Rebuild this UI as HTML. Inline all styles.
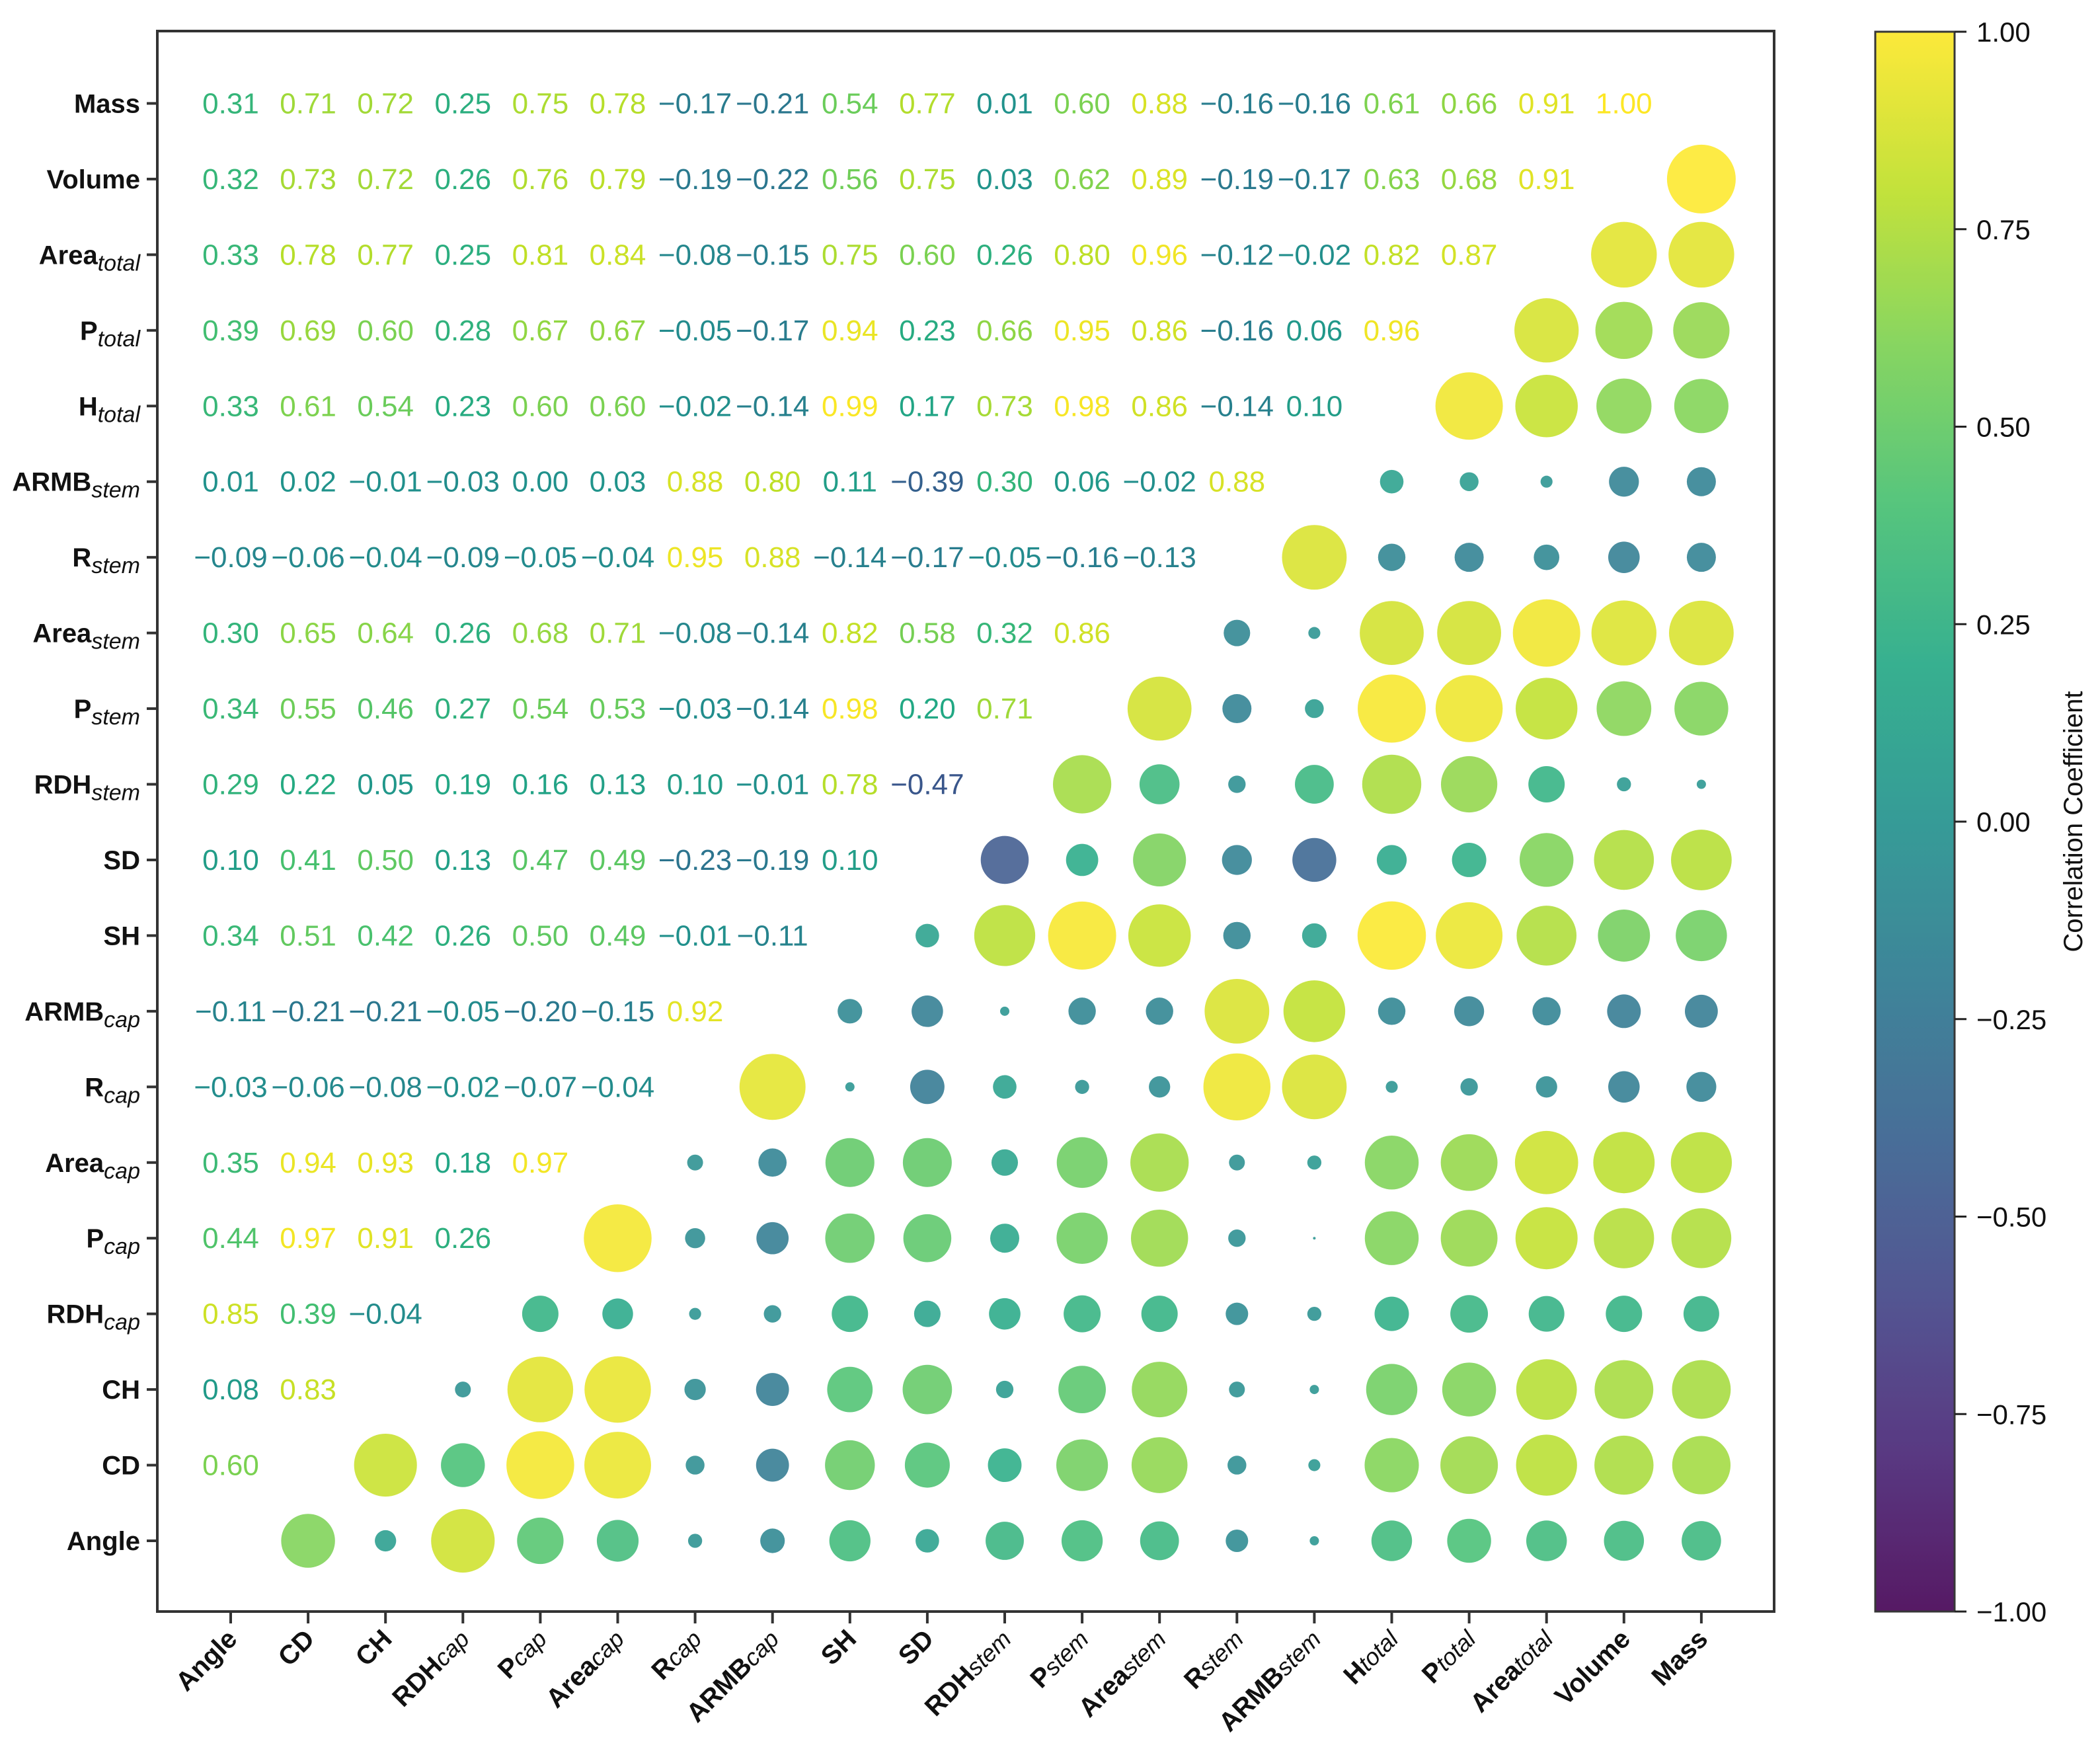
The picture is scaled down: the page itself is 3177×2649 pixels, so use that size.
<!DOCTYPE html>
<html><head><meta charset="utf-8"><style>
html,body{margin:0;padding:0;background:#fff;}
svg{display:block;}
text{font-family:"Liberation Sans","Noto Sans CJK SC",sans-serif;}
</style></head><body>
<svg id="chart" width="3177" height="2649" viewBox="0 0 3177 2649" xmlns="http://www.w3.org/2000/svg">
<defs>
<linearGradient id="vir" x1="0" y1="1" x2="0" y2="0">
<stop offset="0" stop-color="#440154"/><stop offset="0.1" stop-color="#482475"/><stop offset="0.2" stop-color="#414487"/><stop offset="0.3" stop-color="#355f8d"/><stop offset="0.4" stop-color="#2a788e"/><stop offset="0.5" stop-color="#21918c"/><stop offset="0.6" stop-color="#22a884"/><stop offset="0.7" stop-color="#44bf70"/><stop offset="0.8" stop-color="#7ad151"/><stop offset="0.9" stop-color="#bddf26"/><stop offset="1" stop-color="#fde725"/>
</linearGradient>
</defs>
<rect x="238" y="47" width="2446" height="2391" fill="none" stroke="#333" stroke-width="4"/>
<g id="marks"></g>
<g id="axes"></g>
<rect x="2837" y="48" width="120" height="2390" fill="url(#vir)" stroke="#222" stroke-width="3" opacity="0.9"/>
<g id="cbar"></g>
<text transform="translate(3150,1243) rotate(-90)" text-anchor="middle" font-size="40" fill="#111" font-family="Liberation Mono, monospace">Correlation Coefficient</text>
</svg>
<script>
const labels = [["Angle",""],["CD",""],["CH",""],["RDH","cap"],["P","cap"],["Area","cap"],["R","cap"],["ARMB","cap"],["SH",""],["SD",""],["RDH","stem"],["P","stem"],["Area","stem"],["R","stem"],["ARMB","stem"],["H","total"],["P","total"],["Area","total"],["Volume",""],["Mass",""]];
const lowerRows = [
[],
[0.60],
[0.08,0.83],
[0.85,0.39,-0.04],
[0.44,0.97,0.91,0.26],
[0.35,0.94,0.93,0.18,0.97],
[-0.03,-0.06,-0.08,-0.02,-0.07,-0.04],
[-0.11,-0.21,-0.21,-0.05,-0.20,-0.15,0.92],
[0.34,0.51,0.42,0.26,0.50,0.49,-0.01,-0.11],
[0.10,0.41,0.50,0.13,0.47,0.49,-0.23,-0.19,0.10],
[0.29,0.22,0.05,0.19,0.16,0.13,0.10,-0.01,0.78,-0.47],
[0.34,0.55,0.46,0.27,0.54,0.53,-0.03,-0.14,0.98,0.20,0.71],
[0.30,0.65,0.64,0.26,0.68,0.71,-0.08,-0.14,0.82,0.58,0.32,0.86],
[-0.09,-0.06,-0.04,-0.09,-0.05,-0.04,0.95,0.88,-0.14,-0.17,-0.05,-0.16,-0.13],
[0.01,0.02,-0.01,-0.03,0.00,0.03,0.88,0.80,0.11,-0.39,0.30,0.06,-0.02,0.88],
[0.33,0.61,0.54,0.23,0.60,0.60,-0.02,-0.14,0.99,0.17,0.73,0.98,0.86,-0.14,0.10],
[0.39,0.69,0.60,0.28,0.67,0.67,-0.05,-0.17,0.94,0.23,0.66,0.95,0.86,-0.16,0.06,0.96],
[0.33,0.78,0.77,0.25,0.81,0.84,-0.08,-0.15,0.75,0.60,0.26,0.80,0.96,-0.12,-0.02,0.82,0.87],
[0.32,0.73,0.72,0.26,0.76,0.79,-0.19,-0.22,0.56,0.75,0.03,0.62,0.89,-0.19,-0.17,0.63,0.68,0.91],
[0.31,0.71,0.72,0.25,0.75,0.78,-0.17,-0.21,0.54,0.77,0.01,0.60,0.88,-0.16,-0.16,0.61,0.66,0.91,1.00]
];
const cbarTicks = [1.00,0.75,0.50,0.25,0.00,-0.25,-0.50,-0.75,-1.00];

const NS="http://www.w3.org/2000/svg";
const X0=349, DX=117.1, Y0=2331, DY=114.45;
const xPos=j=>X0+j*DX;
const yPos=i=>Y0-i*DY;
const CB_TOP=48, CB_BOT=2438;
const cbY=v=>CB_BOT-(v+1)/2*(CB_BOT-CB_TOP);
const vir=["#440154","#482475","#414487","#355f8d","#2a788e","#21918c","#22a884","#44bf70","#7ad151","#bddf26","#fde725"];
function color(v){
  let t=Math.max(0,Math.min(1,(v+1)/2))*10;let k=Math.min(9,Math.floor(t));let f=t-k;
  const a=vir[k],b=vir[k+1];const p=(h,i)=>parseInt(h.substr(i,2),16);
  const c=[1,3,5].map(i=>Math.round(p(a,i)+(p(b,i)-p(a,i))*f));
  return `rgb(${c[0]},${c[1]},${c[2]})`;
}
function mk(tag,attrs,parent){const e=document.createElementNS(NS,tag);for(const k in attrs)e.setAttribute(k,attrs[k]);parent.appendChild(e);return e;}
const marks=document.getElementById('marks'), axes=document.getElementById('axes'), cbar=document.getElementById('cbar');
const N=labels.length;
function val(i,j){return i>j?lowerRows[i][j]:lowerRows[j][i];}
for(let i=0;i<N;i++){
  for(let j=0;j<N;j++){
    if(j===i) continue;
    const v=val(i,j);
    if(j<i){
      const t=mk('text',{x:xPos(j),y:yPos(i)+15,'text-anchor':'middle','font-size':44,fill:color(v)},marks);
      
      
      t.textContent=(v<0?'\u2212':'')+Math.abs(v).toFixed(2);
    } else {
      const c=mk('circle',{cx:xPos(j),cy:yPos(i),r:2+50*Math.sqrt(Math.abs(v)),fill:color(v),'fill-opacity':0.85},marks);
      
      
    }
  }
}
for(let i=0;i<N;i++){
  const [m,s]=labels[i];
  mk('line',{x1:222,x2:238,y1:yPos(i),y2:yPos(i),stroke:'#333','stroke-width':4},axes);
  const t=mk('text',{x:212,y:yPos(i)+14,'text-anchor':'end','font-size':40,'font-weight':'bold',fill:'#111'},axes);
  
  
  const a=mk('tspan',{},t);a.textContent=m;
  if(s){const b=mk('tspan',{'font-size':34,'font-style':'italic','font-weight':'normal',dy:10},t);b.textContent=s;}
  mk('line',{x1:xPos(i),x2:xPos(i),y1:2438,y2:2456,stroke:'#333','stroke-width':4},axes);
  const tx=mk('text',{transform:`translate(${xPos(i)+12},${2482}) rotate(-45)`,'text-anchor':'end','font-size':40,'font-weight':'bold',fill:'#111'},axes);
  
  
  const c=mk('tspan',{},tx);c.textContent=m;
  if(s){const d=mk('tspan',{'font-size':36,'font-style':'italic','font-weight':'normal'},tx);d.textContent=s;}
}
cbarTicks.forEach(v=>{
  mk('line',{x1:2957,x2:2975,y1:cbY(v),y2:cbY(v),stroke:'#222','stroke-width':3},cbar);
  const t=mk('text',{x:2990,y:cbY(v)+15,'font-size':42,fill:'#111'},cbar);
  
  
  t.textContent=(v<0?'\u2212':'')+Math.abs(v).toFixed(2);
});
</script>
</body></html>
